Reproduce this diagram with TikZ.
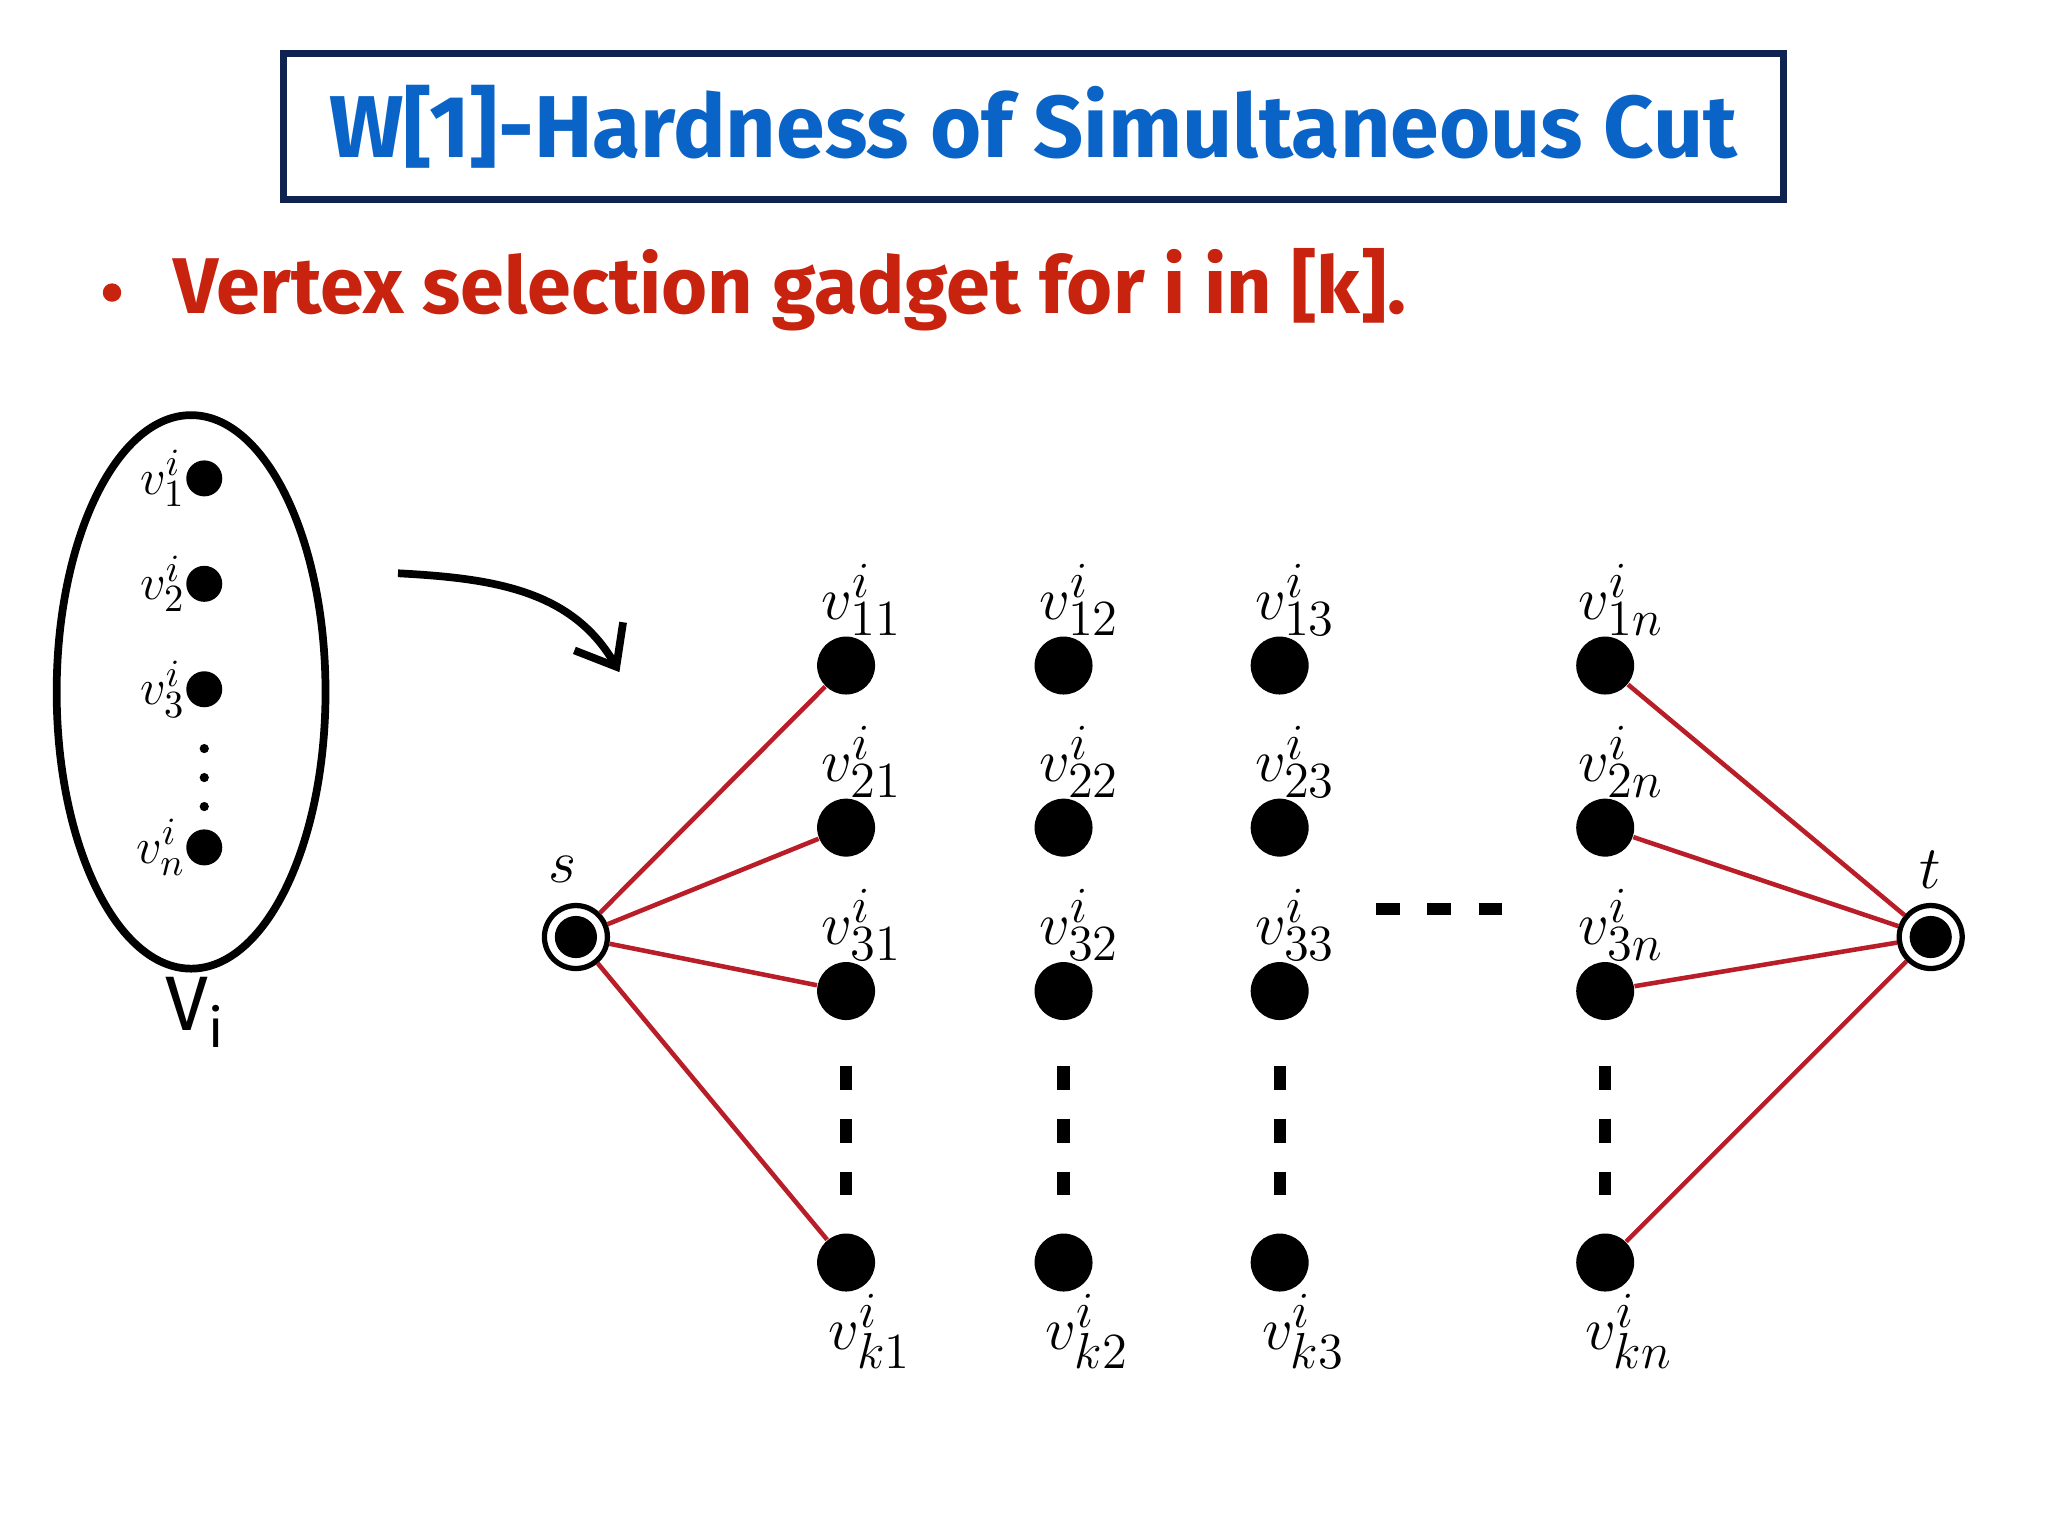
\documentclass[tikz,border=0pt]{standalone}
\usepackage{fontspec}
\usetikzlibrary{arrows.meta}
\setsansfont{Fira Sans}
\definecolor{ttl}{RGB}{10,100,200}
\definecolor{rtx}{RGB}{200,35,15}
\definecolor{edg}{RGB}{185,30,40}
\definecolor{frm}{RGB}{15,35,80}
\begin{document}
\begin{tikzpicture}[x=0.01318cm,y=-0.01318cm,
  big/.style={circle,fill=black,inner sep=0pt,minimum size=0.58cm},
  small/.style={circle,fill=black,inner sep=0pt,minimum size=0.36cm},
  term/.style={circle,draw=black,line width=1.5pt,fill=white,inner sep=0pt,minimum size=0.63cm},
  lab/.style={font=\fontsize{19}{20}\selectfont,inner sep=0pt},
  slab/.style={font=\fontsize{15}{16}\selectfont,inner sep=0pt},
  redge/.style={draw=edg,line width=1.3pt}]
\useasboundingbox (0,0) rectangle (1554,1166);
\node[draw=frm,line width=2pt,minimum width=1138*0.01318cm,minimum height=111*0.01318cm,
  text=ttl,font=\sffamily\bfseries\fontsize{25}{28}\selectfont] (title) at (784,96) {W[1]-Hardness of Simultaneous Cut};
\fill[rtx] (85,222) circle (7);
\node[anchor=west,text=rtx,font=\sffamily\bfseries\fontsize{22.5}{25}\selectfont] (bul) at (122,220) {Vertex selection gadget for i in [k].};
% ellipse
\draw[line width=2.2pt] (145,525) ellipse [x radius=102,y radius=210];
\foreach \y/\l [count=\k] in {363/1,443/2,523/3,643/n}{
  \node[small] (e\k) at (155,\y) {};
  \node[slab,anchor=east] (el\k) at (141,\y) {$v_{\l}^{i}$};
}
\foreach \y in {568,590,612} \fill (155,\y) circle (3.5);
\node[font=\sffamily\fontsize{22}{24}\selectfont] (Vi) at (148,768) {V\textsubscript{i}};
% arrow
\coordinate (a1) at (302,435); \coordinate (a2) at (470,510);
\draw[line width=2.2pt,-{Straight Barb[length=10pt,width=16pt]}] (a1) to[out=-3,in=120] (a2);
% s and t
\node[term] (s) at (437,711) {}; \fill (437,711) circle (16);
\node[term] (t) at (1465,711) {}; \fill (1465,711) circle (16);
\node[lab] (sl) at (427,660) {$s$};
\node[lab] (tl) at (1465,660) {$t$};
% grid
\foreach \x/\c [count=\j] in {642/1,807/2,971/3,1218/n}{
  \foreach \y/\r [count=\i] in {505/1,628/2,752/3,958/k}{
    \node[big] (n\i\j) at (\x,\y) {};
  }
  \foreach \y/\r [count=\i] in {505/1,628/2,752/3}{
    \node[lab] (l\i\j) at (\x+12,\y-50) {$v_{\r\c}^{i}$};
  }
  \node[lab] (l4\j) at (\x+18,1010) {$v_{k\c}^{i}$};
  \foreach \y in {818,858,898} \draw[line width=3.5pt] (\x,\y-9) -- (\x,\y+9);
  \draw[line width=3.5pt] (\x,937) -- (\x,945);
}
\foreach \x in {1053,1092,1131} \draw[line width=3.5pt] (\x-9,690) -- (\x+9,690);
\foreach \i in {1,2,3,4}{
  \draw[redge] (s) -- (n\i1);
  \draw[redge] (n\i4) -- (t);
}
\end{tikzpicture}
\end{document}
